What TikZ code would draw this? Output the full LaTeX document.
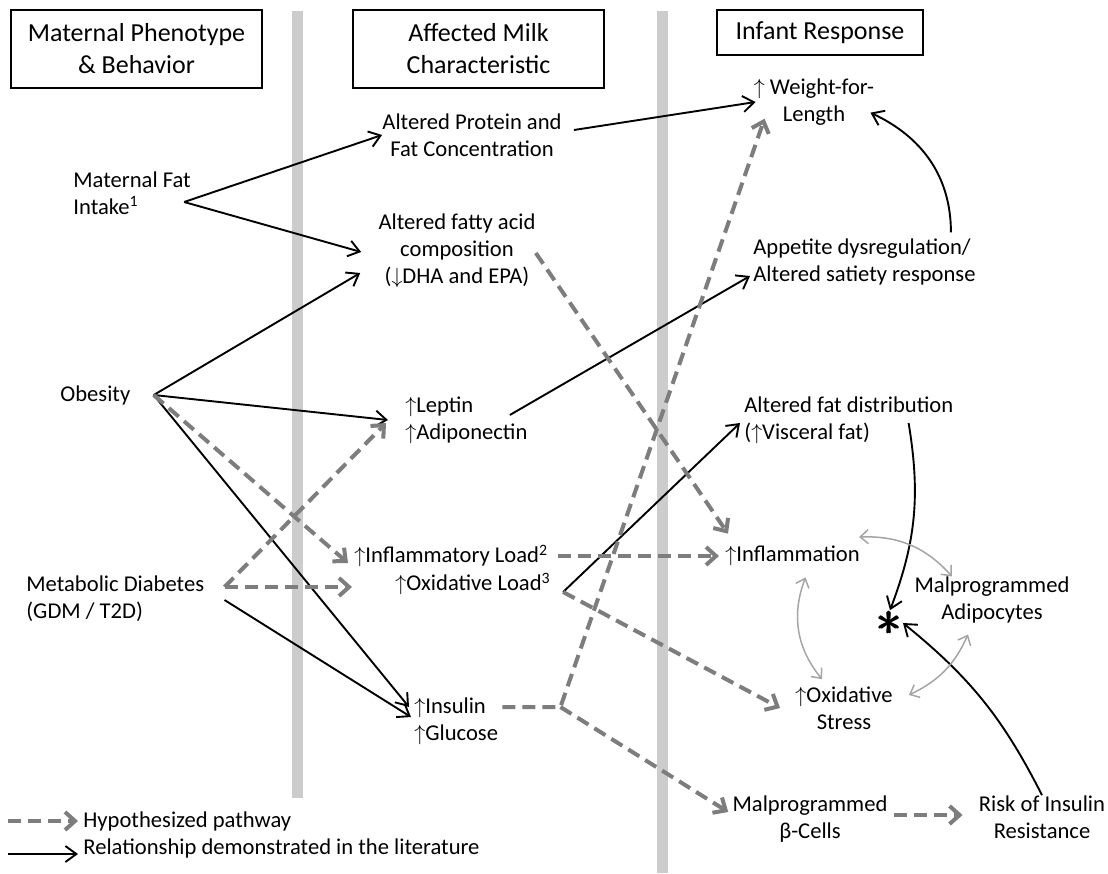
\documentclass[tikz,border=0pt]{standalone}
\usepackage{amsmath}
\usepackage{fontspec}
\setmainfont{Carlito}
\usetikzlibrary{arrows.meta}

\definecolor{hypgray}{RGB}{125,125,125}
\definecolor{lingray}{RGB}{165,165,165}
\definecolor{bargray}{RGB}{204,204,204}

\begin{document}
\begin{tikzpicture}[x=0.5pt, y=-0.5pt,
  every node/.style={font=\fontsize{11.3}{13.5}\selectfont, inner sep=0pt},
  txt/.style={align=left},
  ctr/.style={align=center},
  head/.style={draw, line width=0.7pt, align=center, font=\fontsize{13}{16}\selectfont},
  known/.style={-{Straight Barb[length=5.5pt,width=8pt]}, line width=0.95pt},
  hypo/.style={-{Straight Barb[length=5pt,width=9pt]}, hypgray, line width=2pt, dash pattern=on 6.5pt off 3.5pt},
  link/.style={{Straight Barb[length=4pt,width=7pt]}-{Straight Barb[length=4pt,width=7pt]}, lingray, line width=0.75pt},
  bar/.style={bargray, line width=5.5pt}]

  \useasboundingbox (0,0) rectangle (1108,873);

  % column dividers
  \foreach \x/\y in {297/798, 662/873}
    \draw[bar] (\x,11) -- (\x,\y);

  % headers
  \node[head, minimum width=125.5pt, minimum height=39pt] (hdmom) at (136.5,49) {Maternal Phenotype\\\& Behavior};
  \node[head, minimum width=125.5pt, minimum height=39pt] (hdmilk) at (478.5,49) {Affected Milk\\Characteristic};
  \node[head, minimum width=103pt, minimum height=22.5pt] (hdinf) at (820,32.5) {Infant Response};

  % maternal side
  \node[txt, anchor=west] (mfat) at (73,193) {Maternal Fat\\Intake\textsuperscript{1}};
  \node[anchor=west] (obes) at (60,395) {Obesity};
  \node[txt, anchor=west] (diab) at (26,599) {Metabolic Diabetes\\(GDM / T2D)};

  % milk
  \node[ctr] (prot) at (472,135) {Altered Protein and\\Fat Concentration};
  \node[ctr] (fatty) at (457,251) {Altered fatty acid\\composition\\($\downarrow$DHA and EPA)};
  \node[txt, anchor=west] (lept) at (405,420) {$\uparrow$Leptin\\$\uparrow$Adiponectin};
  \node[anchor=west] (infl) at (354,556) {$\uparrow$Inflammatory Load\textsuperscript{2}};
  \node[anchor=west] (oxid) at (395,584) {$\uparrow$Oxidative Load\textsuperscript{3}};
  \node[txt, anchor=west] (ins) at (414,721) {$\uparrow$Insulin\\$\uparrow$Glucose};

  % infant
  \node[ctr] (wfl) at (814,102) {$\uparrow$ Weight-for-\\Length};
  \node[txt, anchor=west] (appe) at (753,262) {Appetite dysregulation/\\Altered satiety response};
  \node[txt, anchor=west] (fdist) at (744,420) {Altered fat distribution\\($\uparrow$Visceral fat)};
  \node[anchor=west] (inflm) at (725,556) {$\uparrow$Inflammation};
  \node[ctr] (adip) at (992,600) {Malprogrammed\\Adipocytes};
  \node (ast) at (890,623) {\scalebox{2.3}{$\pmb{\ast}$}};
  \node[ctr] (ostr) at (844,708) {$\uparrow$Oxidative\\Stress};
  \node[ctr] (beta) at (810,819) {Malprogrammed\\β-Cells};
  \node[ctr] (risk) at (1042,817) {Risk of Insulin\\Resistance};

  % branching points
  \coordinate (mfatp) at ([shift={(-7,9)}]mfat.east);
  \coordinate (obesp) at ([shift={(23,0)}]obes.east);
  \coordinate (diabd) at ([shift={(20,-12)}]diab.east);
  \coordinate (diabs) at ([shift={(20,1)}]diab.east);
  \coordinate (oxidp) at ([shift={(12,8)}]oxid.east);
  \coordinate (insp) at ([shift={(4,-14)}]ins.east);
  \coordinate (jn) at ([shift={(58,0)}]insp);

  % demonstrated
  \draw[known] (mfatp) -- (prot.west);
  \draw[known] (mfatp) -- ([shift={(-17,1)}]fatty.west);
  \draw[known] (obesp) -- ([shift={(-18,22)}]fatty.west);
  \draw[known] (obesp) -- ([shift={(-17,0)}]lept.west);
  \draw[known] (obesp) -- ([shift={(-5,-14)}]ins.west);
  \draw[known] (diabs) -- ([shift={(-3,-4)}]ins.west);
  \draw[known] ([shift={(12,-5)}]prot.east) -- ([shift={(2,0)}]wfl.west);
  \draw[known] ([shift={(-18,-5)}]lept.east) -- ([shift={(-3,14)}]appe.west);
  \draw[known] (oxidp) -- ([shift={(-4,3)}]fdist.west);
  \draw[known] ([shift={(-25,-6)}]appe.north east) to[out=90, in=-25] ([shift={(-4,-13)}]wfl.south east);
  \draw[known] ([shift={(-45,3)}]fdist.east) to[bend left=15] (ast.north);
  \draw[known] (risk.north) to[bend right=12] (ast.east);

  % hypothesized
  \draw[hypo] ([shift={(0,2)}]fatty.east) -- ([shift={(3,-12)}]inflm.north west);
  \draw[hypo] (obesp) -- ([shift={(-6,7)}]infl.west);
  \draw[hypo] (diabd) -- ([shift={(-19,3)}]lept.west);
  \draw[hypo] (diabd) -- ([shift={(-43,3)}]oxid.west);
  \draw[hypo] ([shift={(10,0)}]infl.east) -- ([shift={(-6,0)}]inflm.west);
  \draw[hypo] (oxidp) -- ([shift={(-15,0)}]ostr.west);
  \draw[hypo] (insp) -- (jn) -- ([shift={(11,-7)}]wfl.south west);
  \draw[hypo] (jn) -- ([shift={(-4,-7)}]beta.west);
  \draw[hypo] ([shift={(6,-4)}]beta.east) -- ([shift={(-16,-2)}]risk.west);

  % feedback between outcomes
  \draw[link] ([shift={(-1,-19)}]inflm.east) to[bend left=25] ([xshift=-20pt]adip.north);
  \draw[link] ([shift={(13,11)}]inflm.south) to[bend right=30] ([shift={(-22,-7)}]ostr.north);
  \draw[link] ([shift={(16,-13)}]ostr.east) to[bend right=20] ([shift={(-24,11)}]adip.south);

  % legend
  \coordinate (lg1) at (8,821);
  \coordinate (lg2) at (8,854);
  \node[anchor=west] (hyp) at (83,821) {Hypothesized pathway};
  \node[anchor=west] (rel) at (83,848) {Relationship demonstrated in the literature};
  \draw[hypo] (lg1) -- ([shift={(-5,0)}]hyp.west);
  \draw[known] (lg2) -- ([shift={(-5,6)}]rel.west);
\end{tikzpicture}
\end{document}
